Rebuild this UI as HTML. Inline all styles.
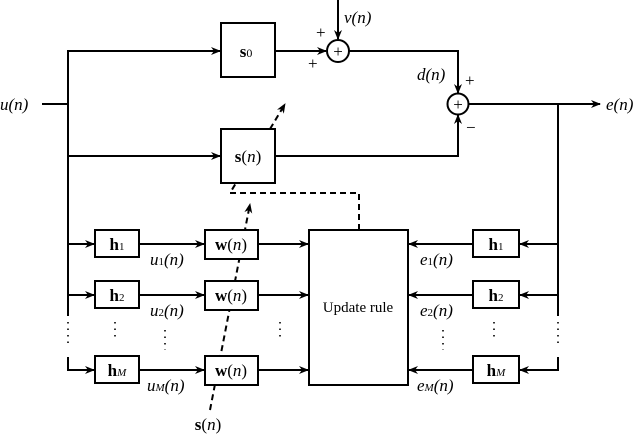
<!DOCTYPE html>
<html><head><meta charset="utf-8"><style>
body{margin:0;background:#fff}
svg{display:block}
text{font-family:"Liberation Serif",serif;fill:#000}
.i{font-style:italic}
</style></head><body>
<svg width="640" height="435" viewBox="0 0 640 435" xmlns="http://www.w3.org/2000/svg">
<defs>
<marker id="a" markerWidth="10" markerHeight="8" refX="9" refY="4" orient="auto" markerUnits="userSpaceOnUse">
<path d="M0,0 L10,4 L0,8 L3,4 Z" fill="#000"/></marker>
</defs>
<g stroke="#000" stroke-width="2" fill="none" stroke-dasharray="6,4">
<line x1="270" y1="129" x2="285" y2="104" marker-end="url(#a)"/>
<polyline points="359,230 359,193 230,193 236,183"/>
<line x1="210" y1="410" x2="250" y2="204" marker-end="url(#a)"/>
</g>
<g stroke="#000" stroke-width="2" fill="none">
<line x1="42" y1="104" x2="68" y2="104"/>
<polyline points="68,316 68,51 220,51" marker-end="url(#a)"/>
<line x1="275" y1="51" x2="326" y2="51" marker-end="url(#a)"/>
<line x1="338" y1="0" x2="338" y2="39" marker-end="url(#a)"/>
<circle cx="338" cy="51" r="11" fill="#fff"/>
<polyline points="349,51 458,51 458,93" marker-end="url(#a)"/>
<circle cx="458" cy="104" r="10.5" fill="#fff"/>
<line x1="68" y1="156" x2="220" y2="156" marker-end="url(#a)"/>
<rect x="221" y="23" width="54" height="54" fill="#fff"/>
<rect x="221" y="129" width="54" height="54" fill="#fff"/>
<polyline points="275,156 458,156 458,115" marker-end="url(#a)"/>
<line x1="469" y1="104" x2="600" y2="104" marker-end="url(#a)"/>
<line x1="558" y1="104" x2="558" y2="316"/>
<polyline points="68,357 68,370 94,370" marker-end="url(#a)"/>
<polyline points="558,357 558,370 520,370" marker-end="url(#a)"/>
<line x1="68" y1="244" x2="94" y2="244" marker-end="url(#a)"/>
<line x1="68" y1="295" x2="94" y2="295" marker-end="url(#a)"/>
<rect x="95" y="230" width="44" height="27"/>
<rect x="95" y="281" width="44" height="27"/>
<rect x="95" y="356" width="44" height="27"/>
<line x1="139" y1="244" x2="204" y2="244" marker-end="url(#a)"/>
<line x1="139" y1="295" x2="204" y2="295" marker-end="url(#a)"/>
<line x1="139" y1="370" x2="204" y2="370" marker-end="url(#a)"/>
<rect x="205" y="230" width="53" height="29" fill="#fff"/>
<rect x="205" y="281" width="53" height="29" fill="#fff"/>
<rect x="205" y="356" width="53" height="29" fill="#fff"/>
<line x1="258" y1="244" x2="308" y2="244" marker-end="url(#a)"/>
<line x1="258" y1="295" x2="308" y2="295" marker-end="url(#a)"/>
<line x1="258" y1="370" x2="308" y2="370" marker-end="url(#a)"/>
<rect x="309" y="230" width="99" height="155"/>
<line x1="558" y1="244" x2="520" y2="244" marker-end="url(#a)"/>
<line x1="558" y1="295" x2="520" y2="295" marker-end="url(#a)"/>
<rect x="473" y="230" width="46" height="27"/>
<rect x="473" y="281" width="46" height="27"/>
<rect x="473" y="356" width="46" height="27"/>
<line x1="473" y1="244" x2="409" y2="244" marker-end="url(#a)"/>
<line x1="473" y1="295" x2="409" y2="295" marker-end="url(#a)"/>
<line x1="473" y1="370" x2="409" y2="370" marker-end="url(#a)"/>
</g>
<g stroke="#000" stroke-width="1.6" stroke-dasharray="1.5,5">
<line x1="68" y1="322" x2="68" y2="346"/>
<line x1="115" y1="322" x2="115" y2="340"/>
<line x1="165" y1="330" x2="165" y2="350"/>
<line x1="280" y1="322" x2="280" y2="340"/>
<line x1="443" y1="330" x2="443" y2="350"/>
<line x1="494" y1="322" x2="494" y2="340"/>
<line x1="558" y1="322" x2="558" y2="346"/>
</g>
<g font-size="17">
<text x="0" y="110" class="i">u(n)</text>
<text x="344" y="23" class="i">v(n)</text>
<text x="417" y="80" class="i">d(n)</text>
<text x="606" y="110" class="i">e(n)</text>
<text x="316" y="38" font-size="17">+</text>
<text x="308" y="69" font-size="17">+</text>
<text x="465" y="86" font-size="17">+</text>
<text x="466" y="133" font-size="17">−</text>
<text x="338" y="57" font-size="17" text-anchor="middle">+</text>
<text x="458" y="110" font-size="17" text-anchor="middle">+</text>
<text x="246" y="57" text-anchor="middle" font-weight="bold">s<tspan font-weight="normal" font-size="12">0</tspan></text>
<text x="248" y="162" text-anchor="middle"><tspan font-weight="bold">s</tspan>(<tspan class="i">n</tspan>)</text>
<text x="117" y="250" text-anchor="middle" font-weight="bold">h<tspan font-weight="normal" font-size="11">1</tspan></text>
<text x="117" y="301" text-anchor="middle" font-weight="bold">h<tspan font-weight="normal" font-size="11">2</tspan></text>
<text x="117" y="376" text-anchor="middle" font-weight="bold">h<tspan font-weight="normal" font-size="11" font-style="italic">M</tspan></text>
<text x="496" y="250" text-anchor="middle" font-weight="bold">h<tspan font-weight="normal" font-size="11">1</tspan></text>
<text x="496" y="301" text-anchor="middle" font-weight="bold">h<tspan font-weight="normal" font-size="11">2</tspan></text>
<text x="496" y="376" text-anchor="middle" font-weight="bold">h<tspan font-weight="normal" font-size="11" font-style="italic">M</tspan></text>
<text x="231" y="250" text-anchor="middle"><tspan font-weight="bold">w</tspan>(<tspan class="i">n</tspan>)</text>
<text x="231" y="301" text-anchor="middle"><tspan font-weight="bold">w</tspan>(<tspan class="i">n</tspan>)</text>
<text x="231" y="376" text-anchor="middle"><tspan font-weight="bold">w</tspan>(<tspan class="i">n</tspan>)</text>
<text x="358" y="312" text-anchor="middle" font-size="15">Update rule</text>
<text x="150" y="265" class="i">u<tspan font-size="11" font-style="normal">1</tspan>(n)</text>
<text x="150" y="316" class="i">u<tspan font-size="11" font-style="normal">2</tspan>(n)</text>
<text x="147" y="391" class="i">u<tspan font-size="11">M</tspan>(n)</text>
<text x="420" y="265" class="i">e<tspan font-size="11" font-style="normal">1</tspan>(n)</text>
<text x="420" y="316" class="i">e<tspan font-size="11" font-style="normal">2</tspan>(n)</text>
<text x="417" y="391" class="i">e<tspan font-size="11">M</tspan>(n)</text>
<text x="208" y="430" text-anchor="middle"><tspan font-weight="bold">s</tspan>(<tspan class="i">n</tspan>)</text>
</g>
</svg>
</body></html>
